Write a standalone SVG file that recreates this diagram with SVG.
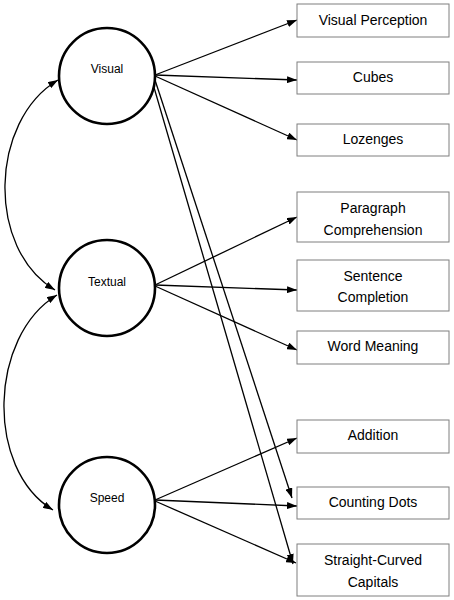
<svg xmlns="http://www.w3.org/2000/svg" width="454" height="600" viewBox="0 0 454 600">
<style>
.bg{fill:#ffffff}
.box{fill:#ffffff;stroke:#7f7f7f;stroke-width:1}
.lat{fill:#ffffff;stroke:#000000;stroke-width:2.6}
.bt{font-family:"Liberation Sans",Arial,sans-serif;font-size:14px;fill:#000;text-anchor:middle}
.ct{font-family:"Liberation Sans",Arial,sans-serif;font-size:12px;fill:#000;text-anchor:middle}
.ln{fill:none;stroke:#000;stroke-width:1.3;marker-end:url(#ah)}
.cv{fill:none;stroke:#000;stroke-width:1.3;marker-end:url(#ah);marker-start:url(#ahs)}
</style>
<defs>
<marker id="ah" viewBox="0 0 10 7" refX="10" refY="3.5" markerUnits="userSpaceOnUse" markerWidth="10" markerHeight="7" orient="auto">
<path d="M0,0 L10,3.5 L0,7 z" fill="#000"/>
</marker>
<marker id="ahs" viewBox="0 0 10 7" refX="10" refY="3.5" markerUnits="userSpaceOnUse" markerWidth="10" markerHeight="7" orient="auto-start-reverse">
<path d="M0,0 L10,3.5 L0,7 z" fill="#000"/>
</marker>
</defs>
<rect class="bg" x="0" y="0" width="454" height="600"/>
<g id="connectors">
<path class="cv" d="M58,80 C-10.7,121 -13.7,249 55,290"/>
<path class="cv" d="M57,295 C-11,336 -15,469 53,510"/>
<line class="ln" x1="155" y1="75" x2="297" y2="20"/>
<line class="ln" x1="155" y1="75" x2="297" y2="80"/>
<line class="ln" x1="155" y1="76" x2="297" y2="140"/>
<line class="ln" x1="155" y1="80" x2="292" y2="498"/>
<line class="ln" x1="153" y1="84" x2="293" y2="564"/>
<line class="ln" x1="155" y1="285" x2="297" y2="217"/>
<line class="ln" x1="155" y1="285" x2="297" y2="290"/>
<line class="ln" x1="155" y1="286" x2="297" y2="350"/>
<line class="ln" x1="155" y1="500" x2="297" y2="438"/>
<line class="ln" x1="155" y1="500" x2="297" y2="506"/>
<line class="ln" x1="155" y1="501" x2="296" y2="563"/>
</g>
<g id="visual"><circle class="lat" cx="107" cy="76" r="48"/><text class="ct" x="107" y="72.5">Visual</text></g>
<g id="textual"><circle class="lat" cx="107" cy="288" r="48"/><text class="ct" x="107" y="286">Textual</text></g>
<g id="speed"><circle class="lat" cx="107" cy="505" r="48"/><text class="ct" x="107" y="502">Speed</text></g>
<g id="visual-perception"><rect class="box" x="297" y="4" width="152" height="33"/><text class="bt" x="373" y="25">Visual Perception</text></g>
<g id="cubes"><rect class="box" x="297" y="62" width="152" height="32"/><text class="bt" x="373" y="82">Cubes</text></g>
<g id="lozenges"><rect class="box" x="297" y="124" width="152" height="32"/><text class="bt" x="373" y="144">Lozenges</text></g>
<g id="paragraph-comprehension"><rect class="box" x="297" y="192" width="152" height="50"/><text class="bt" x="373" y="212.5">Paragraph</text><text class="bt" x="373" y="234.5">Comprehension</text></g>
<g id="sentence-completion"><rect class="box" x="297" y="260" width="152" height="51"/><text class="bt" x="373" y="280.5">Sentence</text><text class="bt" x="373" y="301.5">Completion</text></g>
<g id="word-meaning"><rect class="box" x="297" y="331" width="152" height="33"/><text class="bt" x="373" y="351">Word Meaning</text></g>
<g id="addition"><rect class="box" x="297" y="420" width="152" height="33"/><text class="bt" x="373" y="440">Addition</text></g>
<g id="counting-dots"><rect class="box" x="297" y="487" width="152" height="32"/><text class="bt" x="373" y="507">Counting Dots</text></g>
<g id="straight-curved-capitals"><rect class="box" x="297" y="544" width="152" height="52"/><text class="bt" x="373" y="565">Straight-Curved</text><text class="bt" x="373" y="587">Capitals</text></g>
</svg>
